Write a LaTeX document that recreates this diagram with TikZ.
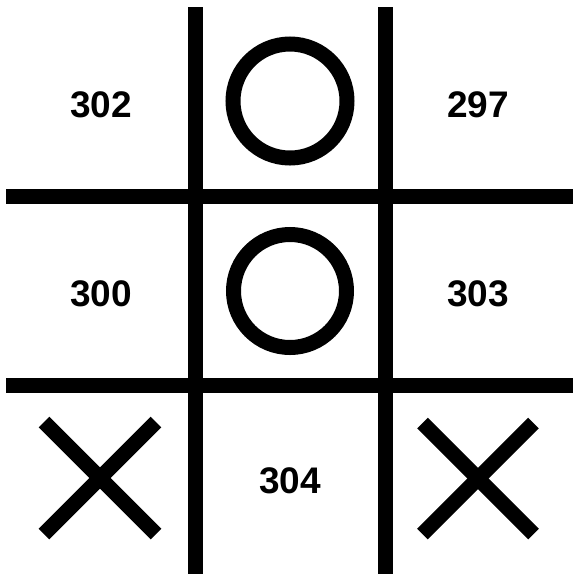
\documentclass[tikz,border=0pt]{standalone}
\usepackage{fontspec}
\setmainfont{Liberation Sans}
\begin{document}
\begin{tikzpicture}[x=1pt,y=-1pt,
  thick line/.style={line width=15pt,line cap=butt},
  num/.style={font=\fontsize{37}{40}\selectfont\bfseries,inner sep=0pt,anchor=center}]
\useasboundingbox (0,0) rectangle (573,574);
% grid
\draw[thick line] (195,7) -- (195,574);
\draw[thick line] (385,7) -- (385,574);
\draw[thick line] (6,196.5) -- (573,196.5);
\draw[thick line] (6,385.5) -- (573,385.5);
% O marks
\draw[thick line] (290,101) circle[radius=57];
\draw[thick line] (290,291) circle[radius=56.5];
% X marks
\draw[thick line] (44,422) -- (156,534);
\draw[thick line] (44,534) -- (156,422);
\draw[thick line] (422.5,423) -- (533.5,534);
\draw[thick line] (422.5,534) -- (533.5,423);
% numbers
\node[num] (n302) at (101,104.5) {302};
\node[num] (n297) at (478,104.5) {297};
\node[num] (n300) at (101,293.5) {300};
\node[num] (n303) at (478,293.5) {303};
\node[num] (n304) at (290,481) {304};
\end{tikzpicture}
\end{document}
